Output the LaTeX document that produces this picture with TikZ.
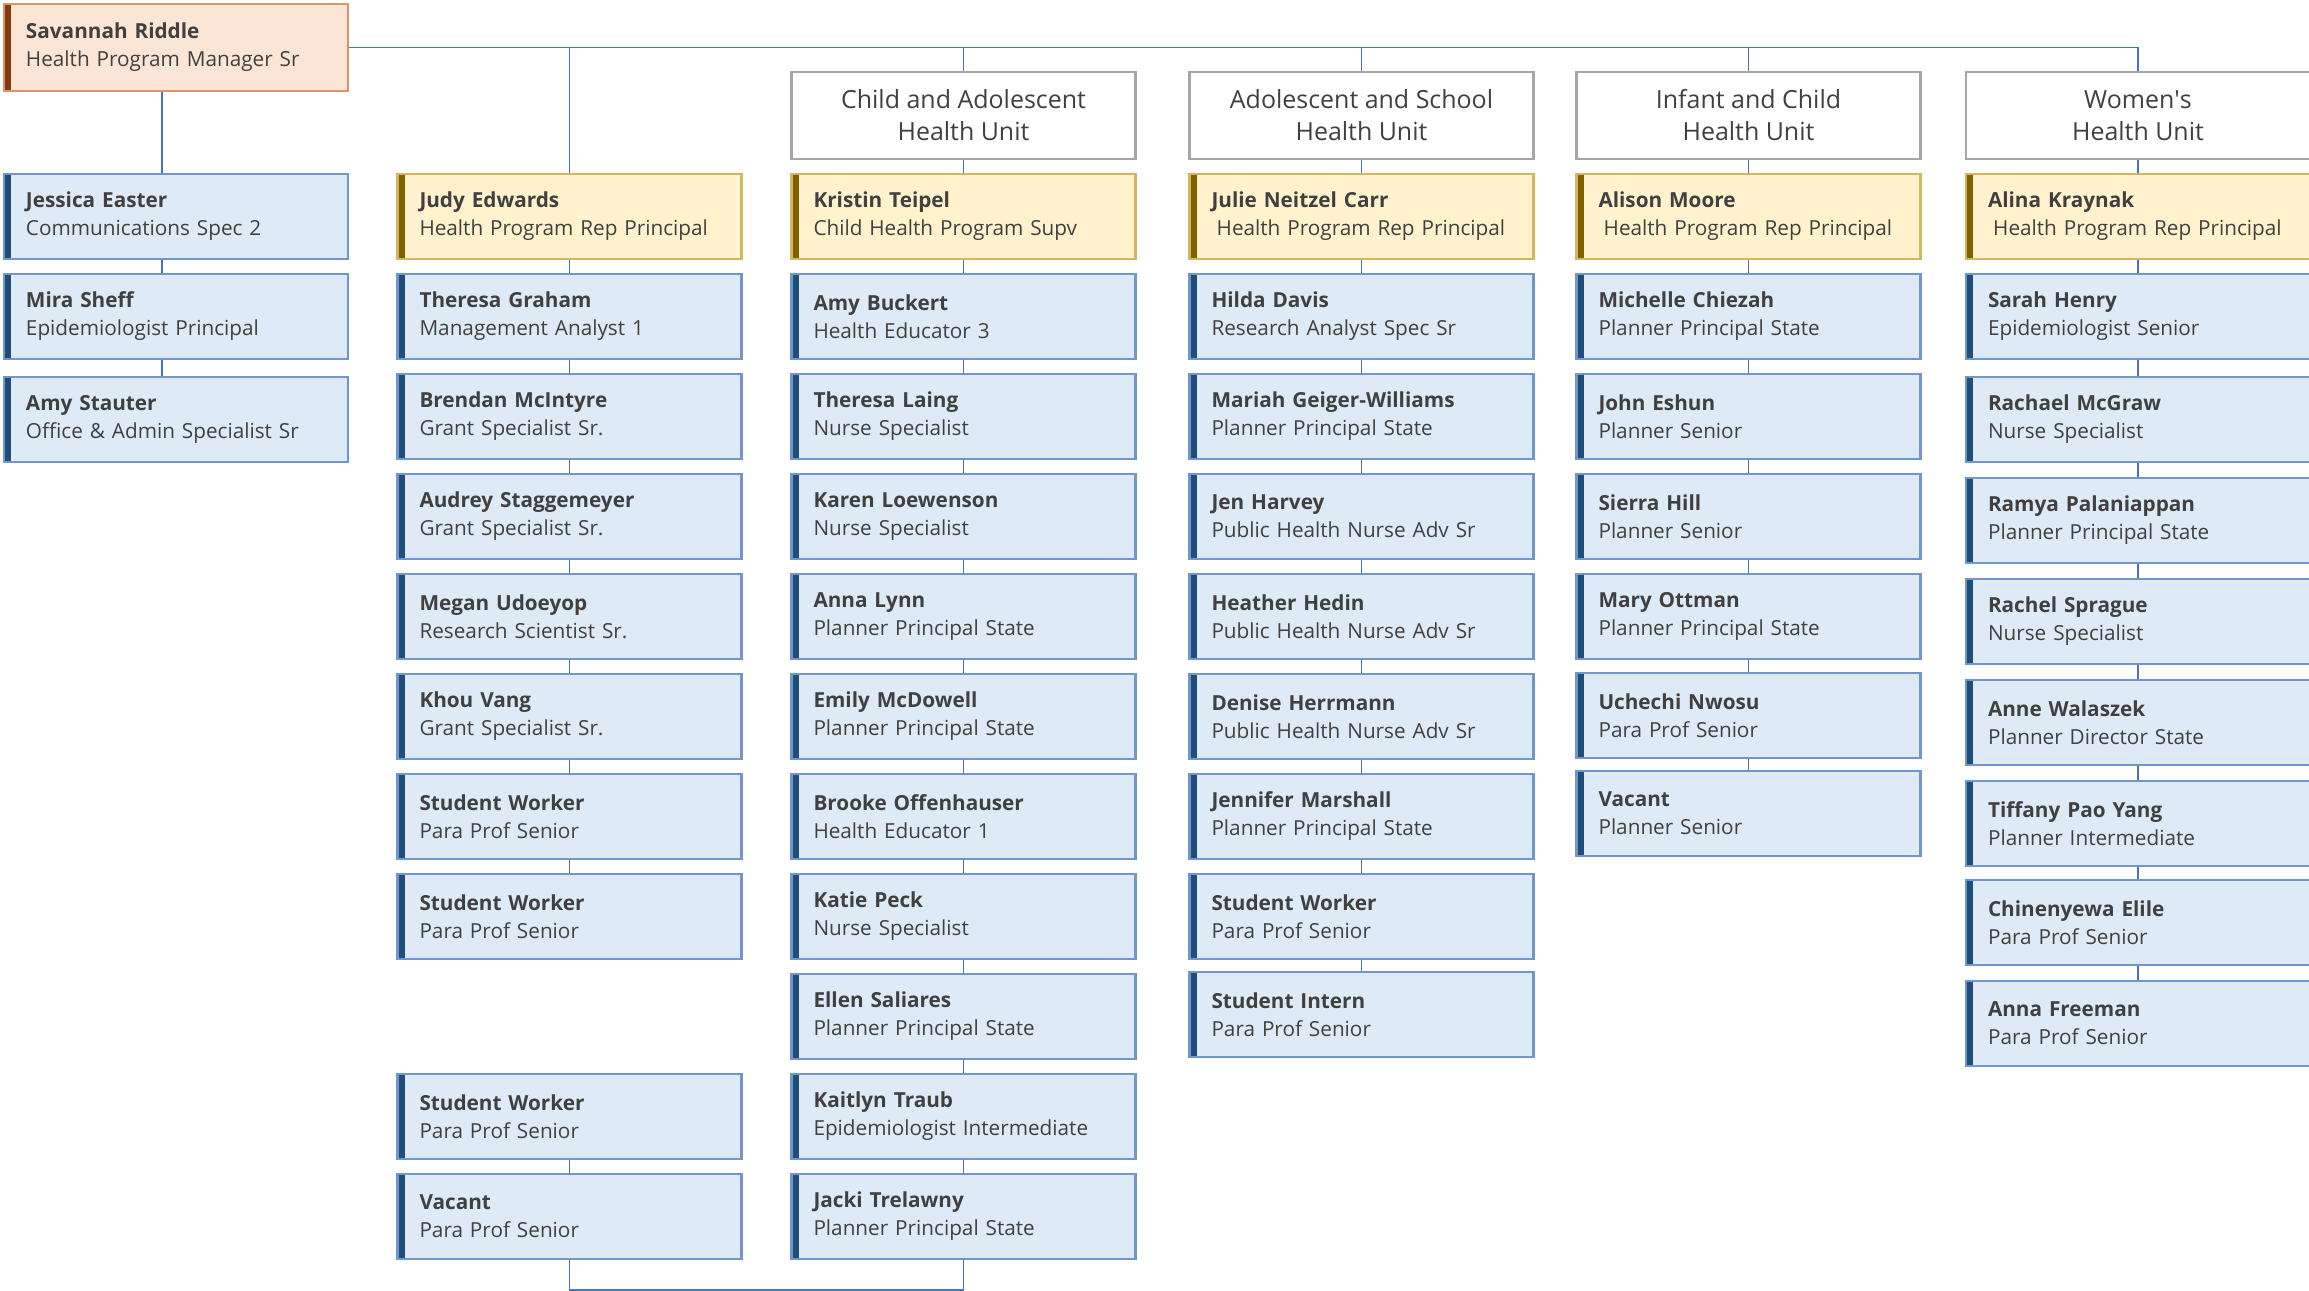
\documentclass[tikz,border=0pt]{standalone}
\usepackage{fontspec}
\setmainfont{Open Sans}
\usetikzlibrary{calc}

\definecolor{bluefill}{HTML}{DEEAF6}
\definecolor{blueline}{HTML}{7096CC}
\definecolor{bluebar}{HTML}{1F4E79}
\definecolor{goldfill}{HTML}{FFF2CC}
\definecolor{goldline}{HTML}{D4B65E}
\definecolor{goldbar}{HTML}{7F6000}
\definecolor{peachfill}{HTML}{FBE5D6}
\definecolor{peachline}{HTML}{DC9568}
\definecolor{peachbar}{HTML}{843C0C}
\definecolor{unitline}{HTML}{A6A6A6}
\definecolor{wire}{HTML}{4472C4}
\definecolor{ink}{HTML}{404040}

\begin{document}
\begin{tikzpicture}[
  barcol/.style={path picture={\fill[#1] (path picture bounding box.south west) rectangle ([xshift=0.07cm]path picture bounding box.north west);}},
  card/.style={draw=blueline, fill=bluefill, line width=0.6pt, minimum width=3.44cm, minimum height=0.85cm, text width=3.0cm, inner xsep=0.22cm, align=left, text=ink, font={\fontsize{5.9}{7.97}\selectfont}, barcol=bluebar},
  lead/.style={card, draw=goldline, fill=goldfill, barcol=goldbar},
  boss/.style={card, draw=peachline, fill=peachfill, barcol=peachbar, minimum height=0.87cm},
  unit/.style={draw=unitline, fill=white, line width=0.7pt, minimum width=3.44cm, minimum height=0.87cm, align=center, text=ink, font={\fontsize{7.1}{9.1}\selectfont}},
  link/.style={draw=wire, line width=0.45pt}]

\useasboundingbox (0,0) rectangle (23.09,-12.91);

% manager and unit heads
\node[boss] (top) at (1.76,-0.475) {\textbf{Savannah Riddle}\\Health Program Manager Sr};

\node[unit] (u3) at (9.635,-1.155) {Child and Adolescent\\Health Unit};
\node[unit] (u4) at (13.615,-1.155) {Adolescent and School\\Health Unit};
\node[unit] (u5) at (17.485,-1.155) {Infant and Child\\Health Unit};
\node[unit] (u6) at (21.38,-1.155) {Women\textquotesingle s\\Health Unit};

% column 1
\node[card] (a0) at (1.76,-2.165) {\textbf{Jessica Easter}\\Communications Spec 2};
\node[card] (a1) at (1.76,-3.165) {\textbf{Mira Sheff}\\Epidemiologist Principal};
\node[card] (a2) at (1.76,-4.195) {\textbf{Amy Stauter}\\Office \& Admin Specialist Sr};

% column 2
\node[lead] (b0) at (5.695,-2.165) {\textbf{Judy Edwards}\\Health Program Rep Principal};
\node[card] (b1) at (5.695,-3.165) {\textbf{Theresa Graham}\\Management Analyst 1};
\node[card] (b2) at (5.695,-4.165) {\textbf{Brendan McIntyre}\\Grant Specialist Sr.};
\node[card] (b3) at (5.695,-5.165) {\textbf{Audrey Staggemeyer}\\Grant Specialist Sr.};
\node[card] (b4) at (5.695,-6.165) {\textbf{Megan Udoeyop}\\Research Scientist Sr.};
\node[card] (b5) at (5.695,-7.165) {\textbf{Khou Vang}\\Grant Specialist Sr.};
\node[card] (b6) at (5.695,-8.165) {\textbf{Student Worker}\\Para Prof Senior};
\node[card] (b7) at (5.695,-9.165) {\textbf{Student Worker}\\Para Prof Senior};
\node[card] (b9) at (5.695,-11.165) {\textbf{Student Worker}\\Para Prof Senior};
\node[card] (b10) at (5.695,-12.165) {\textbf{Vacant}\\Para Prof Senior};

% column 3
\node[lead] (c0) at (9.635,-2.165) {\textbf{Kristin Teipel}\\Child Health Program Supv};
\node[card] (c1) at (9.635,-3.165) {\textbf{Amy Buckert}\\Health Educator 3};
\node[card] (c2) at (9.635,-4.165) {\textbf{Theresa Laing}\\Nurse Specialist};
\node[card] (c3) at (9.635,-5.165) {\textbf{Karen Loewenson}\\Nurse Specialist};
\node[card] (c4) at (9.635,-6.165) {\textbf{Anna Lynn}\\Planner Principal State};
\node[card] (c5) at (9.635,-7.165) {\textbf{Emily McDowell}\\Planner Principal State};
\node[card] (c6) at (9.635,-8.165) {\textbf{Brooke Offenhauser}\\Health Educator 1};
\node[card] (c7) at (9.635,-9.165) {\textbf{Katie Peck}\\Nurse Specialist};
\node[card] (c8) at (9.635,-10.165) {\textbf{Ellen Saliares}\\Planner Principal State};
\node[card] (c9) at (9.635,-11.165) {\textbf{Kaitlyn Traub}\\Epidemiologist Intermediate};
\node[card] (c10) at (9.635,-12.165) {\textbf{Jacki Trelawny}\\Planner Principal State};

% column 4
\node[lead] (d0) at (13.615,-2.165) {\textbf{Julie Neitzel Carr}\\\hspace*{0.25em}Health Program Rep Principal};
\node[card] (d1) at (13.615,-3.165) {\textbf{Hilda Davis}\\Research Analyst Spec Sr};
\node[card] (d2) at (13.615,-4.165) {\textbf{Mariah Geiger-Williams}\\Planner Principal State};
\node[card] (d3) at (13.615,-5.165) {\textbf{Jen Harvey}\\Public Health Nurse Adv Sr};
\node[card] (d4) at (13.615,-6.165) {\textbf{Heather Hedin}\\Public Health Nurse Adv Sr};
\node[card] (d5) at (13.615,-7.165) {\textbf{Denise Herrmann}\\Public Health Nurse Adv Sr};
\node[card] (d6) at (13.615,-8.165) {\textbf{Jennifer Marshall}\\Planner Principal State};
\node[card] (d7) at (13.615,-9.165) {\textbf{Student Worker}\\Para Prof Senior};
\node[card] (d8) at (13.615,-10.145) {\textbf{Student Intern}\\Para Prof Senior};

% column 5
\node[lead] (e0) at (17.485,-2.165) {\textbf{Alison Moore}\\\hspace*{0.25em}Health Program Rep Principal};
\node[card] (e1) at (17.485,-3.165) {\textbf{Michelle Chiezah}\\Planner Principal State};
\node[card] (e2) at (17.485,-4.165) {\textbf{John Eshun}\\Planner Senior};
\node[card] (e3) at (17.485,-5.165) {\textbf{Sierra Hill}\\Planner Senior};
\node[card] (e4) at (17.485,-6.165) {\textbf{Mary Ottman}\\Planner Principal State};
\node[card] (e5) at (17.485,-7.155) {\textbf{Uchechi Nwosu}\\Para Prof Senior};
\node[card] (e6) at (17.485,-8.135) {\textbf{Vacant}\\Planner Senior};

% column 6
\node[lead] (f0) at (21.38,-2.165) {\textbf{Alina Kraynak}\\\hspace*{0.25em}Health Program Rep Principal};
\node[card] (f1) at (21.38,-3.165) {\textbf{Sarah Henry}\\Epidemiologist Senior};
\node[card] (f2) at (21.38,-4.195) {\textbf{Rachael McGraw}\\Nurse Specialist};
\node[card] (f3) at (21.38,-5.205) {\textbf{Ramya Palaniappan}\\Planner Principal State};
\node[card] (f4) at (21.38,-6.215) {\textbf{Rachel Sprague}\\Nurse Specialist};
\node[card] (f5) at (21.38,-7.225) {\textbf{Anne Walaszek}\\Planner Director State};
\node[card] (f6) at (21.38,-8.235) {\textbf{Tiffany Pao Yang}\\Planner Intermediate};
\node[card] (f7) at (21.38,-9.225) {\textbf{Chinenyewa Elile}\\Para Prof Senior};
\node[card] (f8) at (21.38,-10.235) {\textbf{Anna Freeman}\\Para Prof Senior};

% bus from the manager
\draw[link] (top.east) -- (top.east -| u6.north);
\draw[link] ([xshift=-0.14cm]top.south) -- ([xshift=-0.14cm]a0.north);
\draw[link] (b0.north) -- (b0.north |- top.east);
\draw[link] (u3.north) -- (u3.north |- top.east);
\draw[link] (u4.north) -- (u4.north |- top.east);
\draw[link] (u5.north) -- (u5.north |- top.east);
\draw[link] (u6.north) -- (u6.north |- top.east);

\draw[link] (u3.south) -- (c0.north);
\draw[link] (u4.south) -- (d0.north);
\draw[link] (u5.south) -- (e0.north);
\draw[link] (u6.south) -- (f0.north);

% chains
\foreach \i/\j in {0/1,1/2} \draw[link] ([xshift=-0.14cm]a\i.south) -- ([xshift=-0.14cm]a\j.north);
\foreach \i/\j in {0/1,1/2,2/3,3/4,4/5,5/6,6/7,9/10} \draw[link] (b\i.south) -- (b\j.north);
\foreach \i/\j in {0/1,1/2,2/3,3/4,4/5,5/6,6/7,7/8,8/9,9/10} \draw[link] (c\i.south) -- (c\j.north);
\foreach \i/\j in {0/1,1/2,2/3,3/4,4/5,5/6,6/7,7/8} \draw[link] (d\i.south) -- (d\j.north);
\foreach \i/\j in {0/1,1/2,2/3,3/4,4/5,5/6} \draw[link] (e\i.south) -- (e\j.north);
\foreach \i/\j in {0/1,1/2,2/3,3/4,4/5,5/6,6/7,7/8} \draw[link] (f\i.south) -- (f\j.north);

\draw[link] (b10.south) -- ++(0,-0.30) -| (c10.south);

\end{tikzpicture}
\end{document}
